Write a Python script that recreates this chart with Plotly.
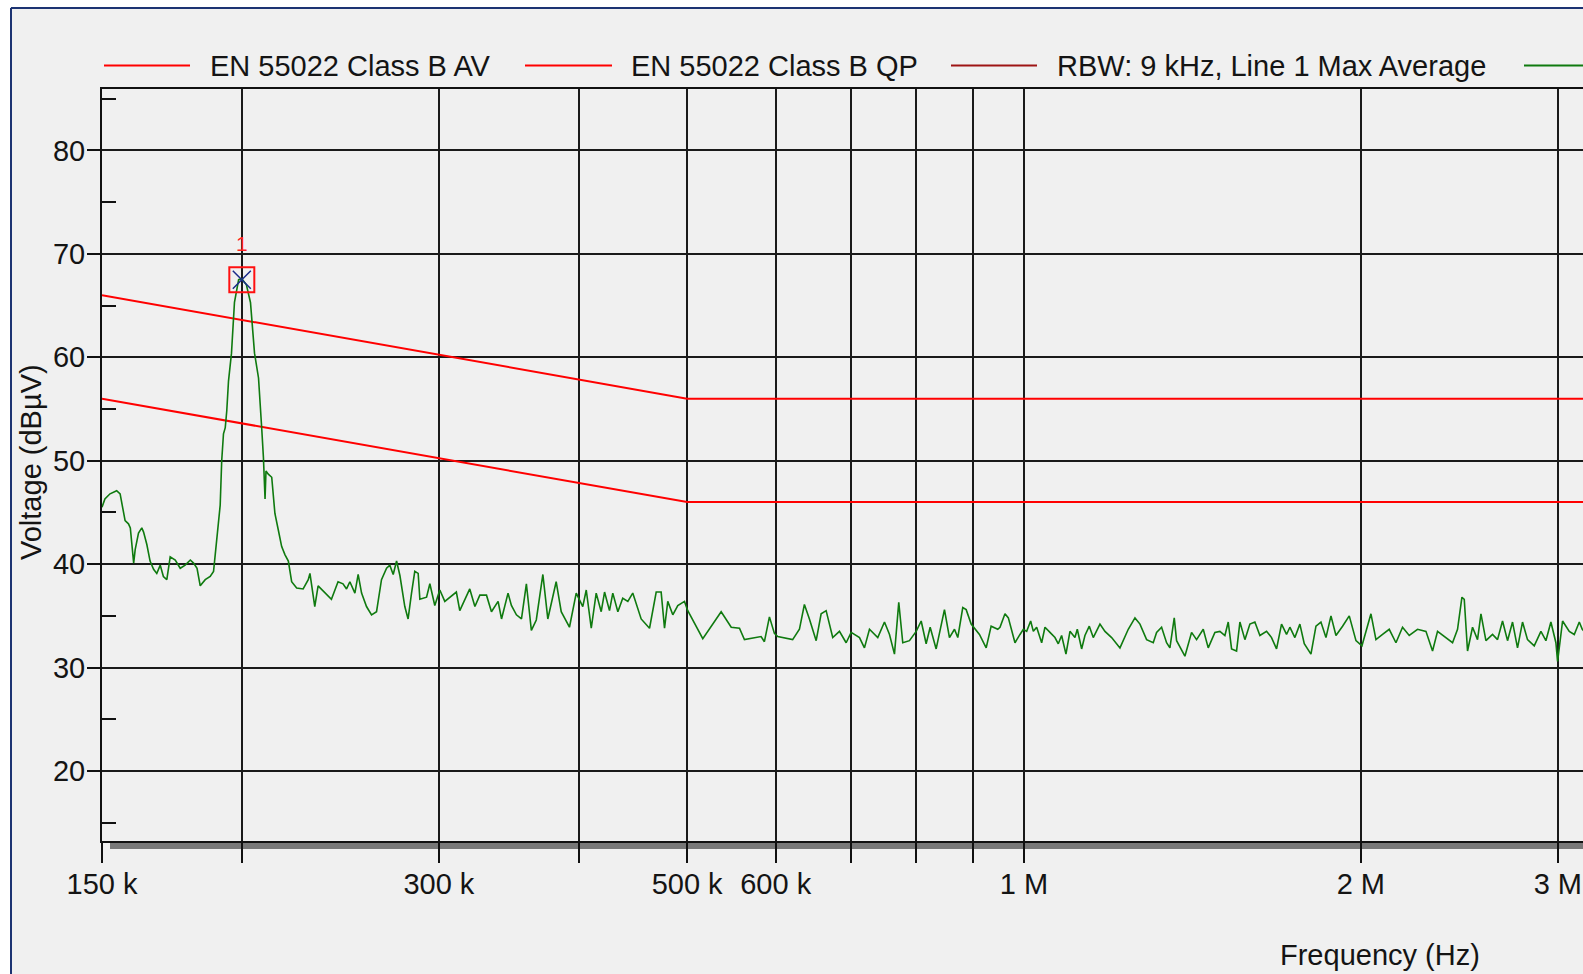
import math
import plotly.graph_objects as go

# Measured sweep (RBW 9 kHz): frequency in kHz, level in dBµV
freq_khz = [
    150.0, 150.9, 152.5, 154.6, 155.7, 156.8, 157.3, 158.4, 159.0, 160.1,
    160.6, 161.7, 162.8, 163.4, 164.5, 165.6, 166.8, 167.9, 169.1, 170.2,
    171.4, 172.6, 174.4, 176.2, 178.0, 179.9, 181.1, 182.4, 183.6, 185.5,
    187.4, 188.7, 190.0, 191.3, 191.9, 192.6, 193.3, 193.9, 194.6, 195.8,
    197.0, 198.7, 200.0, 201.9, 203.6, 205.3, 207.0, 207.7, 208.4, 209.1,
    209.8, 210.2, 211.2, 212.7, 214.1, 215.6, 217.1, 218.6, 220.1, 221.6,
    223.9, 226.9, 229.3, 230.1, 231.6, 232.4, 234.0, 236.4, 240.5, 243.8,
    246.3, 248.1, 249.8, 252.4, 254.1, 255.9, 258.5, 261.2, 263.9, 266.6,
    269.4, 271.2, 273.1, 275.0, 276.9, 279.7, 281.6, 283.6, 285.5, 287.5,
    288.5, 292.5, 294.5, 297.5, 300.6, 303.7, 311.0, 313.2, 319.7, 323.1,
    326.4, 330.9, 334.3, 338.9, 341.3, 345.9, 348.3, 351.9, 355.6, 359.2,
    362.9, 366.6, 371.6, 375.4, 381.9, 385.9, 392.5, 398.0, 403.4, 406.3,
    410.5, 414.7, 419.0, 421.9, 426.2, 429.1, 433.6, 438.0, 442.6, 447.1,
    454.9, 462.8, 469.2, 474.0, 477.3, 480.5, 485.5, 490.5, 497.3, 500.7,
    516.4, 536.3, 547.5, 556.9, 562.6, 582.2, 586.2, 592.3, 598.4, 602.5,
    621.3, 630.0, 636.5, 643.1, 652.1, 658.8, 665.6, 674.7, 684.1, 693.6,
    700.8, 712.9, 720.2, 727.7, 740.2, 750.5, 758.3, 766.1, 772.9, 779.3,
    790.1, 801.1, 809.4, 817.7, 824.5, 834.7, 849.1, 857.9, 866.8, 872.7,
    881.7, 887.9, 897.1, 912.5, 925.2, 934.7, 947.5, 951.9, 961.7, 968.4,
    981.7, 991.9, 998.7, 1005.6, 1013.9, 1019.5, 1026.5, 1037.1, 1044.2, 1055.0,
    1065.9, 1073.2, 1080.6, 1090.3, 1099.3, 1110.6, 1116.0, 1126.0, 1133.7, 1143.9,
    1153.3, 1169.3, 1181.4, 1197.7, 1218.4, 1239.4, 1256.6, 1269.6, 1287.1, 1304.8,
    1313.8, 1327.4, 1341.1, 1350.3, 1362.4, 1369.0, 1392.6, 1411.9, 1426.5, 1446.2,
    1461.1, 1481.3, 1496.6, 1512.1, 1522.5, 1533.0, 1548.8, 1559.5, 1575.6, 1591.9,
    1608.3, 1625.0, 1647.4, 1664.4, 1681.6, 1699.0, 1716.6, 1728.4, 1746.3, 1764.3,
    1780.3, 1805.0, 1823.7,
    1842.5, 1861.6, 1880.9, 1900.3, 1926.3, 1953.0, 1980.2, 2004.7, 2042.2, 2063.3,
    2091.5, 2120.5, 2150.0, 2179.4, 2209.6, 2247.7, 2286.9, 2318.1, 2342.1, 2382.9,
    2415.5, 2440.5, 2462.7, 2474.4, 2491.2, 2517.0, 2543.0, 2560.9, 2587.3, 2622.7,
    2649.8, 2677.2, 2704.9, 2732.9, 2761.1, 2789.6, 2818.5, 2857.6, 2897.3, 2927.2,
    2957.4, 2988.0, 2998.3, 3029.3, 3071.4, 3103.1, 3135.2, 3154.6, 3200.0,
]
level_dbuv = [
    45.5, 46.3, 46.8, 47.1, 46.8, 45.2, 44.2, 43.9, 43.5, 40.1,
    41.4, 43.0, 43.5, 43.1, 41.9, 40.3, 39.5, 39.1, 39.9, 38.8,
    38.5, 40.7, 40.4, 39.6, 39.9, 40.4, 40.1, 39.6, 37.9, 38.5,
    38.8, 39.3, 42.3, 45.7, 50.0, 52.6, 53.2, 54.8, 57.7, 60.4,
    65.3, 67.5, 67.6, 67.0, 65.3, 60.4, 58.0, 55.8, 53.0, 50.3,
    46.3, 49.0, 48.7, 48.4, 44.9, 43.3, 41.7, 40.9, 40.3, 38.3,
    37.7, 37.6, 38.5, 39.1, 37.2, 35.9, 37.9, 37.4, 36.6, 38.3,
    38.1, 37.6, 38.3, 37.2, 39.0, 37.2, 35.9, 35.1, 35.4, 38.5,
    39.6, 39.9, 39.0, 40.3, 38.9, 35.9, 34.7, 37.2, 39.3, 39.1,
    36.6, 36.8, 38.1, 36.0, 37.5, 36.4, 37.3, 35.5, 37.6, 35.9,
    37.0, 37.0, 35.4, 36.4, 34.7, 37.2, 36.0, 35.1, 34.7, 38.1,
    33.6, 34.6, 39.0, 34.7, 38.3, 35.4, 33.9, 37.2, 35.9, 37.5,
    33.8, 37.2, 35.4, 37.3, 35.5, 37.2, 35.4, 36.7, 36.4, 37.2,
    34.7, 33.8, 37.3, 37.3, 33.8, 36.4, 35.1, 36.0, 36.4, 35.5,
    32.8, 35.4, 33.9, 33.8, 32.7, 33.0, 32.5, 34.9, 33.3, 33.0,
    32.7, 33.7, 36.1, 34.7, 32.6, 35.2, 35.5, 32.9, 33.5, 32.4,
    33.4, 32.9, 31.9, 33.7, 32.9, 34.4, 33.2, 31.3, 36.3, 32.4,
    32.6, 33.5, 34.5, 32.3, 33.9, 31.8, 35.6, 32.9, 33.7, 32.9,
    35.8, 35.6, 34.2, 33.2, 31.9, 34.0, 33.7, 33.9, 35.2, 34.8,
    32.4, 33.2, 33.7, 33.5, 34.5, 33.5, 33.9, 32.4, 33.9, 33.4,
    32.9, 32.3, 33.1, 31.3, 33.5, 32.9, 33.7, 31.8, 33.1, 34.0,
    32.9, 34.2, 33.5, 32.9, 31.9, 33.7, 34.8, 34.2, 32.7, 32.4,
    33.4, 33.9, 32.4, 31.9, 34.8, 32.6, 31.1, 33.4, 32.7, 33.7,
    31.9, 33.4, 33.5, 33.1, 34.4, 31.8, 31.6, 34.4, 32.7, 34.2,
    34.4, 33.1, 33.5, 32.9, 31.8, 34.2, 33.2, 33.9, 32.9, 34.2,
    32.3, 31.3, 34.0,
    34.4, 32.9, 35.0, 33.1, 34.0, 35.0, 32.6, 32.1, 35.2, 32.7,
    33.2, 33.7, 32.4, 33.9, 33.1, 33.7, 33.5, 31.6, 33.5, 32.9,
    32.4, 33.7, 36.8, 36.6, 31.6, 33.9, 32.7, 35.2, 32.6, 33.2,
    32.7, 34.5, 32.6, 34.4, 31.9, 34.4, 32.7, 32.1, 33.5, 32.6,
    34.4, 32.4, 30.6, 34.5, 33.5, 33.2, 34.4, 33.7, 33.0,
]

# EN 55022 Class B conducted limits
limit_freq_hz = [150e3, 500e3, 5e6, 5e6, 30e6]
qp_limit_dbuv = [66, 56, 56, 60, 60]
av_limit_dbuv = [56, 46, 46, 50, 50]

# Peak marker 1
marker_freq_khz = 200.0
marker_level_dbuv = 67.5

x_tick_hz = [150e3, 200e3, 300e3, 400e3, 500e3, 600e3, 700e3, 800e3, 900e3, 1e6, 2e6, 3e6]
x_tick_text = ["150 k", "", "300 k", "", "500 k", "600 k", "", "", "", "1 M", "2 M", "3 M"]
y_tick_vals = [20, 30, 40, 50, 60, 70, 80]
y_minor_vals = [15, 25, 35, 45, 55, 65, 75, 85]

legend_names = [
    "EN 55022 Class B AV",
    "EN 55022 Class B QP",
    "RBW: 9 kHz, Line 1 Max Average",
]
legend_colors = ["#ff0000", "#ff0000", "#9e1414"]
trace_name = "RBW: 9 kHz, Line 1 Max Peak"
trace_color = "#0f7a0f"

# ---- page geometry (pixels) ----
W, H = 1583, 974
L, T = 102, 89
PW, PH = 1481, 752
FONT = "Arial, 'Liberation Sans', sans-serif"
TXT = "#141414"


def px(x):
    return (x - L) / PW


def py(y):
    return (T + PH - y) / PH


fig = go.Figure()

fig.add_trace(go.Scatter(
    x=limit_freq_hz, y=qp_limit_dbuv, mode="lines",
    line=dict(color="#ff0000", width=2), name=legend_names[1], showlegend=False))
fig.add_trace(go.Scatter(
    x=limit_freq_hz, y=av_limit_dbuv, mode="lines",
    line=dict(color="#ff0000", width=2), name=legend_names[0], showlegend=False))
fig.add_trace(go.Scatter(
    x=[f * 1e3 for f in freq_khz], y=level_dbuv, mode="lines",
    line=dict(color=trace_color, width=1.6), name=trace_name, showlegend=False))

# marker 1: red box with blue cross
fig.add_trace(go.Scatter(
    x=[marker_freq_khz * 1e3], y=[marker_level_dbuv], mode="markers",
    marker=dict(symbol="square-open", size=25, color="#ff1010", line=dict(width=2, color="#ff1010")),
    showlegend=False))
fig.add_trace(go.Scatter(
    x=[marker_freq_khz * 1e3], y=[marker_level_dbuv], mode="markers",
    marker=dict(symbol="x-thin-open", size=18, color="#1a2a8a", line=dict(width=1.5, color="#1a2a8a")),
    showlegend=False))

shapes = []
annotations = []

# frame of the panel
shapes.append(dict(type="rect", xref="paper", yref="paper", x0=px(-5), x1=px(W + 5), y0=py(-5), y1=py(7),
                   fillcolor="white", line=dict(width=0), layer="below"))
shapes.append(dict(type="rect", xref="paper", yref="paper", x0=px(-5), x1=px(10), y0=py(H + 5), y1=py(-5),
                   fillcolor="white", line=dict(width=0), layer="below"))
shapes.append(dict(type="line", xref="paper", yref="paper", x0=px(11), x1=px(W + 5), y0=py(8), y1=py(8),
                   line=dict(color="#1c3372", width=2)))
shapes.append(dict(type="line", xref="paper", yref="paper", x0=px(11), x1=px(11), y0=py(8), y1=py(H + 5),
                   line=dict(color="#1c3372", width=2)))

# shadow strip under the frequency axis
shapes.append(dict(type="rect", xref="paper", yref="paper", x0=px(110), x1=px(W + 5), y0=py(849), y1=py(841),
                   fillcolor="#787878", line=dict(width=0), layer="below"))

# legend row (the last entry's sample line runs off the right edge)
legend_line_x = [(104, 190), (525, 612), (951, 1037)]
legend_text_x = [208, 629, 1055]
legend_y = 65.5
for (x0, x1), tx, name, col in zip(legend_line_x, legend_text_x, legend_names, legend_colors):
    shapes.append(dict(type="line", xref="paper", yref="paper", x0=px(x0), x1=px(x1),
                       y0=py(legend_y), y1=py(legend_y), line=dict(color=col, width=2)))
    annotations.append(dict(text=name, xref="paper", yref="paper", x=px(tx), y=py(legend_y),
                            xanchor="left", yanchor="middle", showarrow=False,
                            font=dict(family=FONT, size=29, color=TXT)))
shapes.append(dict(type="line", xref="paper", yref="paper", x0=px(1524), x1=px(1610),
                   y0=py(legend_y), y1=py(legend_y), line=dict(color=trace_color, width=2)))

# axis titles
annotations.append(dict(text="Frequency (Hz)", xref="paper", yref="paper", x=px(1380), y=py(955),
                        xanchor="center", yanchor="middle", showarrow=False,
                        font=dict(family=FONT, size=29, color=TXT)))
annotations.append(dict(text="Voltage (dBµV)", xref="paper", yref="paper", x=px(31), y=py(462),
                        xanchor="center", yanchor="middle", showarrow=False, textangle=-90,
                        font=dict(family=FONT, size=29, color=TXT)))

# marker number
annotations.append(dict(text="1", x=math.log10(marker_freq_khz * 1e3), y=marker_level_dbuv,
                        xref="x", yref="y", yshift=36, showarrow=False,
                        font=dict(family=FONT, size=21, color="#ff2020")))

fig.update_layout(
    width=W, height=H,
    margin=dict(l=L, r=W - L - PW, t=T, b=H - T - PH, pad=0),
    paper_bgcolor="#f0f0f0", plot_bgcolor="#f0f0f0",
    showlegend=False,
    shapes=shapes, annotations=annotations,
    font=dict(family=FONT, size=29, color=TXT),
)

fig.update_xaxes(
    type="log", range=[math.log10(150e3), math.log10(150e3) + PW / 1119.0],
    tickmode="array", tickvals=x_tick_hz, ticktext=x_tick_text,
    ticks="outside", ticklen=20, tickwidth=2, tickcolor="#111",
    ticklabelstandoff=-4,
    showgrid=True, gridcolor="#1a1a1a", gridwidth=2,
    showline=True, linecolor="#111", linewidth=2, mirror=True,
    zeroline=False, automargin=False,
    tickfont=dict(family=FONT, size=29, color=TXT),
)
fig.update_yaxes(
    range=[13.23, 85.94],
    tickmode="array", tickvals=y_tick_vals,
    ticks="outside", ticklen=13, tickwidth=2, tickcolor="#111",
    ticklabelstandoff=-4,
    minor=dict(tickmode="array", tickvals=y_minor_vals, ticks="inside", ticklen=14,
               tickwidth=2, tickcolor="#111", showgrid=False),
    showgrid=True, gridcolor="#1a1a1a", gridwidth=2,
    showline=True, linecolor="#111", linewidth=2,
    zeroline=False, automargin=False,
    tickfont=dict(family=FONT, size=29, color=TXT),
)

fig.write_html("out.html")
